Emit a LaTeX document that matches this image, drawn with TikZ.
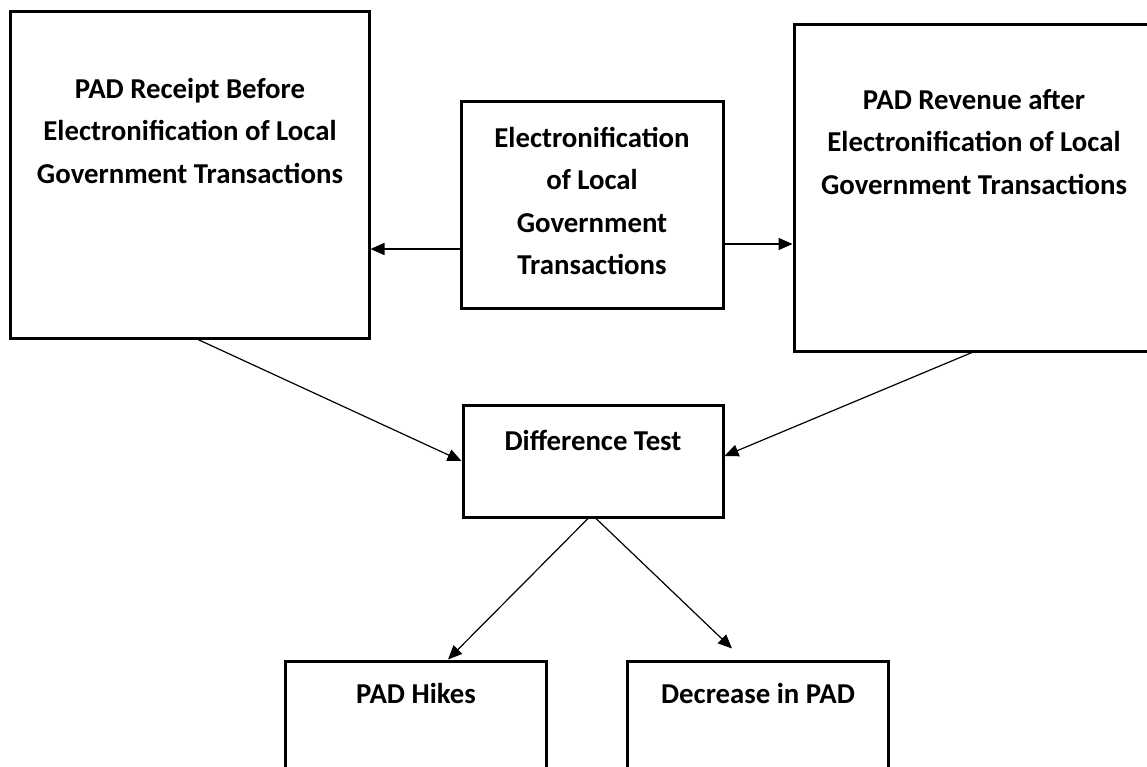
\documentclass[tikz,border=0pt]{standalone}
\usepackage{fontspec}
\setmainfont{Carlito}
\usetikzlibrary{arrows.meta}

\begin{document}
\begin{tikzpicture}[x=1pt,y=-1pt,
  box/.style={draw, line width=3pt, minimum width=#1, inner sep=0pt},
  lbl/.style={align=center, font=\fontsize{28.8}{42.5}\selectfont\bfseries, inner sep=0pt},
  conn/.style={line width=1.5pt, -{Triangle[length=14pt,width=12pt]}},
  thin conn/.style={line width=1.2pt, -{Triangle[length=14pt,width=12pt]}}
]
\useasboundingbox (0,0) rectangle (1147,767);

% outer boxes
\node[box=359pt, minimum height=326pt] (before) at (189.5,175) {};
\node[box=262pt, minimum height=206pt] (elec)   at (592,205) {};
\node[box=360pt, minimum height=326pt] (after)  at (974,188) {};
\node[box=260pt, minimum height=112pt] (diff)   at (593,461) {};
\node[box=261pt, minimum height=139pt] (hikes)  at (415.5,730.5) {};
\node[box=261pt, minimum height=139pt] (decr)   at (757.5,730.5) {};

% box texts
\node[lbl] (tbefore) at (190,131) {PAD Receipt Before\\Electronification of Local\\Government Transactions};
\node[lbl] (telec)   at (592,201) {Electronification\\of Local\\Government\\Transactions};
\node[lbl] (tafter)  at (974,142) {PAD Revenue after\\Electronification of Local\\Government Transactions};
\node[lbl] (tdiff)   at (593,440) {Difference Test};
\node[lbl] (thikes)  at (416,693) {PAD Hikes};
\node[lbl] (tdecr)   at (758,693) {Decrease in PAD};

% connectors
\draw[conn] ([yshift=-44pt]elec.west) -- ([yshift=-74pt]before.east);
\draw[conn] ([yshift=-39pt]elec.east) -- ([yshift=-56pt]after.west);
\draw[thin conn] ([xshift=8.5pt]before.south) -- (diff.west);
\draw[thin conn] ([xshift=-2pt]after.south) -- ([yshift=5pt]diff.east);
\draw[thin conn] ([xshift=-5pt]diff.south) -- ([xshift=32.5pt]hikes.north);
\draw[thin conn] ([xshift=3pt]diff.south) -- ([xshift=-25.5pt,yshift=11pt]decr.north);
\end{tikzpicture}
\end{document}
